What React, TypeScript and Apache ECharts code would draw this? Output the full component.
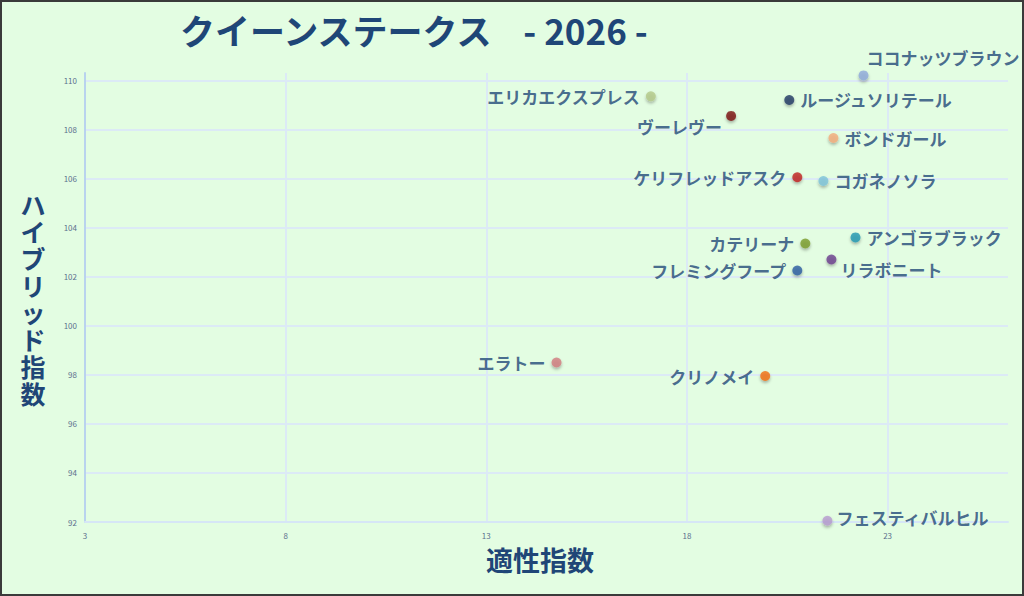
import { useEffect, useRef } from "react";
import * as echarts from "echarts";

// horse names and their two indices
const horseNames = [
  "ココナッツブラウン",
  "エリカエクスプレス",
  "ルージュソリテール",
  "ヴーレヴー",
  "ボンドガール",
  "ケリフレッドアスク",
  "コガネノソラ",
  "アンゴラブラック",
  "カテリーナ",
  "リラボニート",
  "フレミングフープ",
  "エラトー",
  "クリノメイ",
  "フェスティバルヒル",
];
const aptitudeIndex = [22.4, 17.1, 20.55, 19.1, 21.65, 20.75, 21.4, 22.2, 20.95, 21.6, 20.75, 14.75, 19.95, 21.5];
const hybridIndex = [110.2, 109.35, 109.2, 108.55, 107.65, 106.05, 105.9, 103.6, 103.35, 102.7, 102.25, 98.5, 97.95, 92.05];

const dotColors = [
  "#8EA9DB", "#B4C98A", "#1F3864", "#7B1111", "#F4AB7A", "#C0201F", "#7DC3DA",
  "#2197B1", "#7A9B2B", "#6B3D8D", "#2B5DA1", "#D27C7E", "#F26E0F", "#B69BCF",
];
// where each name sits next to its dot
const labelPlace: { position: string; offset: [number, number] }[] = [
  { position: "right", offset: [-8, -18] },
  { position: "left", offset: [0, 0] },
  { position: "right", offset: [0, 0] },
  { position: "left", offset: [2, 11] },
  { position: "right", offset: [0, 0] },
  { position: "left", offset: [0, 0] },
  { position: "right", offset: [0, 0] },
  { position: "right", offset: [0, 0] },
  { position: "left", offset: [0, 0] },
  { position: "right", offset: [-2, 10] },
  { position: "left", offset: [0, 0] },
  { position: "left", offset: [0, 0] },
  { position: "left", offset: [0, 0] },
  { position: "right", offset: [-2, -3] },
];

const yAxisTitle = "ハイブリッド指数";
const xAxisTitle = "適性指数";

const navy = "#1F4677";
const font = "'Noto Sans CJK JP', 'Noto Sans', sans-serif";

export default function App() {
  const chartRef = useRef<HTMLDivElement>(null);

  useEffect(() => {
    if (!chartRef.current) return;
    const chart = echarts.init(chartRef.current, null, { renderer: "svg" });

    const points = horseNames.map((name, i) => ({
      name,
      value: [aptitudeIndex[i], hybridIndex[i]],
      itemStyle: { color: dotColors[i] },
      label: { position: labelPlace[i].position, offset: labelPlace[i].offset },
    }));

    // vertical axis title, one character per line
    const yTitleChars = yAxisTitle.split("").map((ch, i) => ({
      type: "text",
      x: 33,
      y: 191 + i * 27,
      style: {
        text: ch,
        fontSize: 25,
        lineHeight: 25,
        fontWeight: "bold",
        fill: navy,
        fontFamily: font,
        align: "center",
        verticalAlign: "top",
      },
    }));

    chart.setOption({
      animation: false,
      backgroundColor: "#E3FDE2",
      textStyle: { fontFamily: font },
      title: {
        text: "クイーンステークス    - 2026 -",
        left: 175,
        top: 7,
        textStyle: { fontSize: 35, fontWeight: "bold", color: navy, fontFamily: font },
      },
      grid: { left: 85, right: 16, top: 73, bottom: 74 },
      xAxis: {
        type: "value",
        min: 3,
        max: 26,
        interval: 5,
        axisLine: { show: true, onZero: false, lineStyle: { color: "#D6E6F6", width: 2 } },
        axisTick: { show: false },
        axisLabel: { fontSize: 8, color: "#5B6F8E", margin: 9, showMaxLabel: false },
        splitLine: { show: true, showMaxLine: false, lineStyle: { color: "#DCEAF6", width: 2 } },
      },
      yAxis: {
        type: "value",
        min: 92,
        max: 110.3,
        interval: 2,
        axisLine: { show: true, onZero: false, lineStyle: { color: "#B9D3EE", width: 2 } },
        axisTick: { show: false },
        axisLabel: { fontSize: 8, color: "#5B6F8E", margin: 8, showMaxLabel: false },
        splitLine: { show: true, showMinLine: false, showMaxLine: false, lineStyle: { color: "#DCEAF6", width: 2 } },
      },
      series: [
        {
          type: "scatter",
          symbolSize: 10,
          data: points,
          itemStyle: {
            shadowBlur: 3,
            shadowColor: "rgba(0,0,0,0.35)",
            shadowOffsetY: 2,
          },
          label: {
            show: true,
            formatter: "{b}",
            fontSize: 17,
            fontWeight: "bold",
            color: navy,
            fontFamily: font,
            distance: 6,
          },
        },
      ],
      graphic: [
        ...yTitleChars,
        {
          type: "text",
          left: 486,
          top: 546,
          style: {
            text: xAxisTitle,
            fontSize: 27,
            fontWeight: "bold",
            fill: navy,
            fontFamily: font,
          },
        },
        {
          type: "rect",
          shape: { x: 1, y: 1, width: 1022, height: 594 },
          style: { fill: "none", stroke: "#3A3A3A", lineWidth: 2 },
          silent: true,
        },
      ],
    });

    return () => {
      chart.dispose();
    };
  }, []);

  return (
    <div
      ref={chartRef}
      style={{ position: "fixed", left: 0, top: 0, width: 1024, height: 596 }}
    />
  );
}
